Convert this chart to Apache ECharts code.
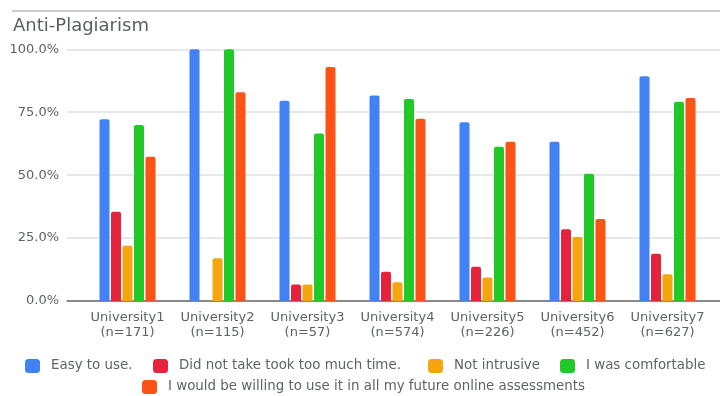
<!DOCTYPE html>
<html>
<head>
<meta charset="utf-8">
<script src="https://cdn.jsdelivr.net/npm/echarts@6/dist/echarts.min.js"></script>
<style>
  html, body { margin: 0; padding: 0; background: #ffffff; }
  #chart { width: 720px; height: 396px; }
</style>
</head>
<body>
<div id="chart"></div>
<script>
// Survey results per university (share of respondents, %)
const universities = ['University1', 'University2', 'University3', 'University4', 'University5', 'University6', 'University7'];
const sampleSizes = [171, 115, 57, 574, 226, 452, 627];

const easyToUse      = [72.2, 100.0, 79.6, 81.6, 71.0, 63.3, 89.3];
const notTooMuchTime = [35.5, 0.0, 6.6, 11.6, 13.6, 28.5, 18.8];
const notIntrusive   = [22.0, 17.0, 6.6, 7.4, 9.3, 25.4, 10.6];
const comfortable    = [69.9, 100.0, 66.5, 80.3, 61.3, 50.6, 79.2];
const willingToUse   = [57.3, 82.9, 93.0, 72.4, 63.3, 32.6, 80.7];

const seriesNames = [
  'Easy to use.',
  'Did not take took too much time.',
  'Not intrusive',
  'I was comfortable',
  'I would be willing to use it in all my future online assessments'
];
const seriesData = [easyToUse, notTooMuchTime, notIntrusive, comfortable, willingToUse];
const colors = ['#4282f4', '#e5233d', '#f5a60e', '#20c928', '#fd5316'];

const yTicks = [0, 25, 50, 75, 100];

const FONT = 'DejaVu Sans';
const TEXT = '#5f6364';

const chart = echarts.init(document.getElementById('chart'), null, { renderer: 'canvas' });

const categoryLabels = universities.map((u, i) => u + '\n(n=' + sampleSizes[i] + ')');

const legendSlots = [
  { left: 25, top: 359 },
  { left: 153, top: 359 },
  { left: 428, top: 359 },
  { left: 560, top: 359 },
  { left: 142, top: 380 }
];

chart.setOption({
  backgroundColor: '#ffffff',
  textStyle: { fontFamily: FONT },
  animation: false,
  color: colors,
  title: {
    text: 'Anti-Plagiarism',
    left: 8,
    top: 12,
    textStyle: { fontFamily: FONT, fontSize: 18, fontWeight: 'normal', color: '#5b5f60' }
  },
  graphic: [{
    type: 'line',
    shape: { x1: 12, y1: 11, x2: 720, y2: 11 },
    style: { stroke: '#cacaca', lineWidth: 2 }
  }],
  legend: seriesNames.map((name, i) => ({
    data: [name],
    left: legendSlots[i].left,
    top: legendSlots[i].top,
    padding: 0,
    itemWidth: 15,
    itemHeight: 14,
    icon: 'roundRect',
    textStyle: { fontFamily: FONT, fontSize: 13.4, color: TEXT, padding: [0, 0, 0, 6] }
  })),
  grid: [
    // full-width frame carrying the value gridlines and baseline
    { left: 67, right: 0, top: 49.3, bottom: 95, containLabel: false },
    // bar area
    { left: 82.5, right: 7.5, top: 49.3, bottom: 95, containLabel: false }
  ],
  xAxis: [
    {
      type: 'category', gridIndex: 0, data: universities,
      axisLine: { show: true, lineStyle: { color: '#6a6a6a', width: 1.5 } },
      axisTick: { show: false }, axisLabel: { show: false }, splitLine: { show: false }
    },
    {
      type: 'category', gridIndex: 1, data: categoryLabels,
      axisLine: { show: false }, axisTick: { show: false },
      axisLabel: { margin: 9, fontFamily: FONT, fontSize: 13, lineHeight: 15, color: TEXT, interval: 0 }
    }
  ],
  yAxis: [
    {
      type: 'value', gridIndex: 0, min: yTicks[0], max: yTicks[yTicks.length - 1], interval: 25,
      axisLine: { show: false }, axisTick: { show: false },
      axisLabel: { margin: 8, fontFamily: FONT, fontSize: 13, color: TEXT, formatter: v => v.toFixed(1) + '%' },
      splitLine: { lineStyle: { color: '#dde2e2', width: 1.5 } }
    },
    {
      type: 'value', gridIndex: 1, min: yTicks[0], max: yTicks[yTicks.length - 1], interval: 25,
      show: false, splitLine: { show: false }
    }
  ],
  series: seriesNames.map((name, i) => ({
    name: name,
    type: 'bar',
    xAxisIndex: 1,
    yAxisIndex: 1,
    data: seriesData[i],
    barWidth: 10,
    barGap: '15%',
    itemStyle: { color: colors[i], borderRadius: [2, 2, 0, 0] }
  }))
});
</script>
</body>
</html>
